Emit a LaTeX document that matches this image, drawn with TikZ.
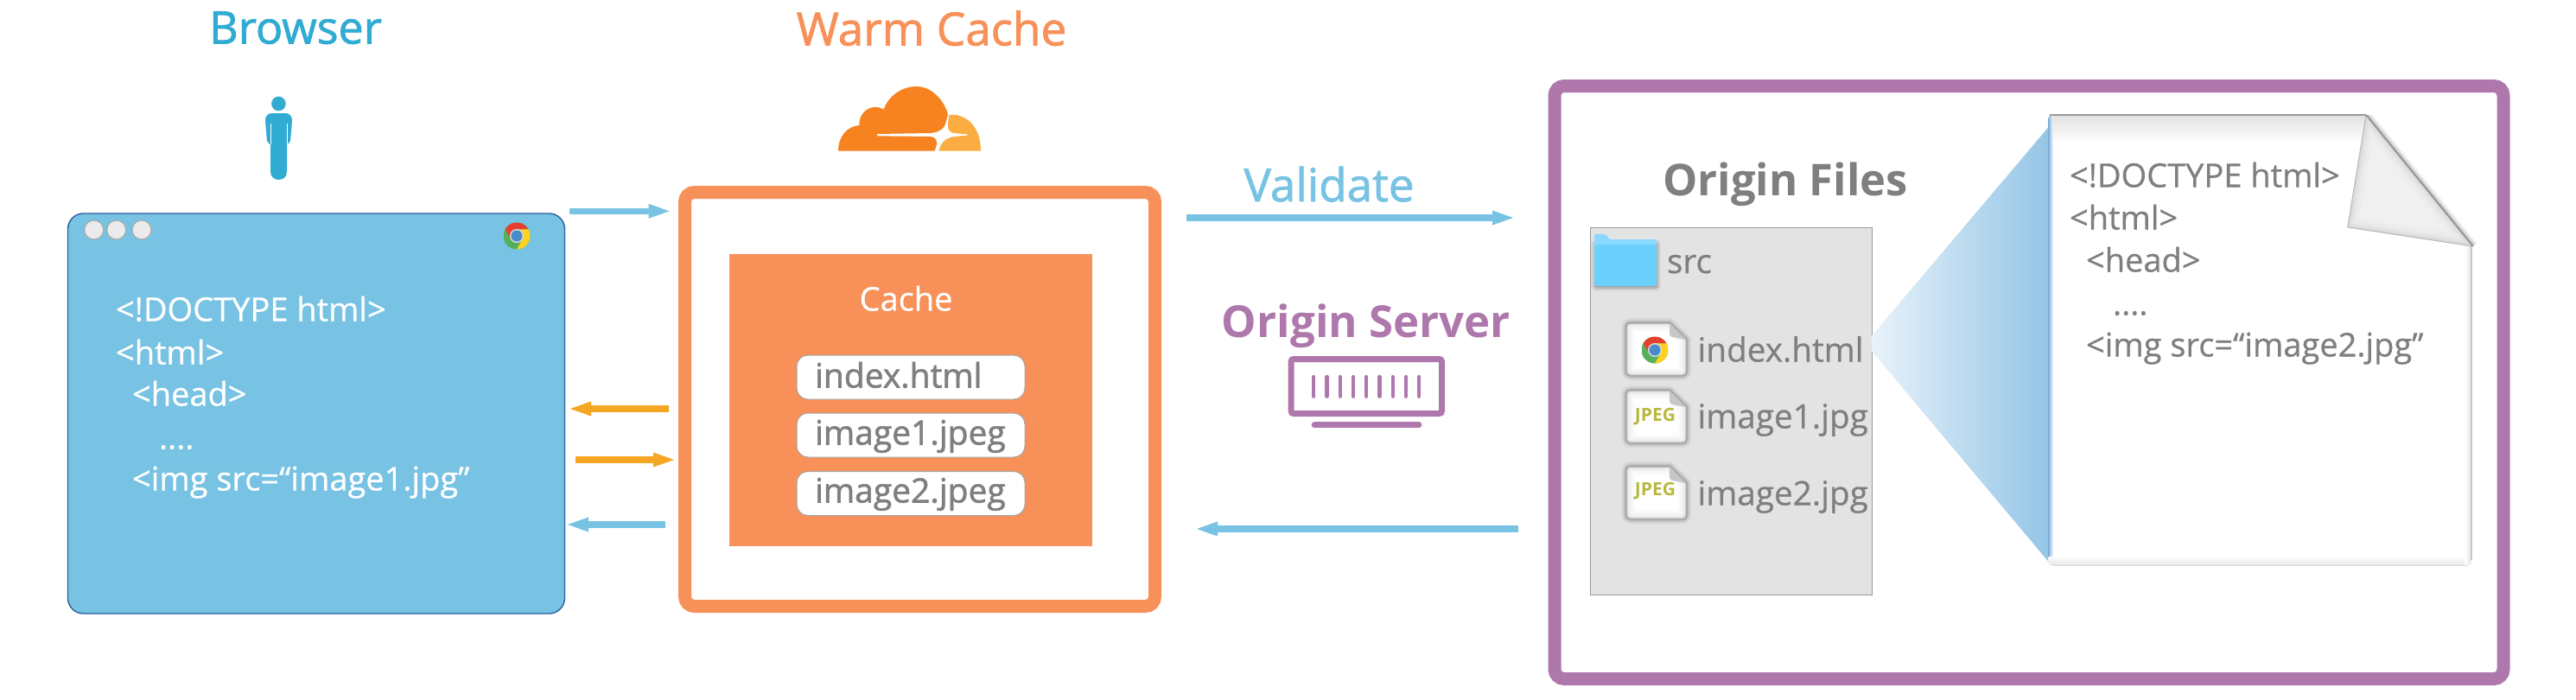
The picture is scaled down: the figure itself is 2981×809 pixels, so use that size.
\documentclass[tikz,border=0pt]{standalone}
\usepackage{fontspec}
\setmainfont{Open Sans}
\newfontfamily\semib[FakeBold=1.5]{Open Sans}
\newfontfamily\medm[FakeBold=0.6]{Open Sans}
\usetikzlibrary{arrows.meta,shapes.geometric}
\definecolor{bblue}{HTML}{78C3E3}
\definecolor{pblue}{HTML}{30ABD2}
\definecolor{worange}{HTML}{F79159}
\definecolor{aorange}{HTML}{F5A623}
\definecolor{ppurple}{HTML}{AF78AC}
\definecolor{tgray}{HTML}{7F7F7F}
\definecolor{cfA}{HTML}{F78320}
\definecolor{cfB}{HTML}{FBAD41}
\tikzset{
  x=1pt,y=-1pt,
  every node/.style={inner sep=0pt,outer sep=0pt},
  blueshaft/.style={draw=bblue,line width=7.3pt,-{Triangle[length=27pt,width=14.5pt]}},
  orangeshaft/.style={draw=aorange,line width=7.3pt,-{Triangle[length=27pt,width=14.5pt]}},
  heading/.style={anchor=base,font=\semib\fontsize{52}{52}\selectfont},
  code/.style={anchor=base west,font=\medm\fontsize{38}{38}\selectfont},
  fname/.style={anchor=base west,text=tgray,font=\medm\fontsize{38.7}{38.7}\selectfont},
  pillname/.style={anchor=base west,text=tgray,font=\semib\fontsize{39}{39}\selectfont},
  jpegmark/.style={anchor=center,text={rgb,255:red,184;green,184;blue,63},font=\bfseries\fontsize{21}{21}\selectfont},
  pill/.style={draw=black!35,fill=white,line width=1pt,rounded corners=13pt,minimum width=264pt,minimum height=51pt},
  dot/.style={draw=black!35,fill=black!8,line width=1pt,circle,minimum size=22pt},
  frame/.style={line width=15pt,rounded corners=11pt,fill=white},
}
\newcommand{\chromeicon}[3]{%
  \begin{scope}[shift={(#1,#2)},yscale=-1,scale=#3]
    \begin{scope}
      \clip (0,0) circle (1);
      \fill[fill={rgb,255:red,86;green,176;blue,90}] (-1,-1) rectangle (1,1);
      \fill[fill={rgb,255:red,229;green,64;blue,47}] (0,.5)--(3,.5)--(3,3)--(-1.933,3)--(-1.933,2.348)--(-.433,-.25)--cycle;
      \fill[fill={rgb,255:red,255;green,210;blue,30}] (0,.5)--(3,.5)--(3,-3)--(-1.067,-3)--(-1.067,-2.848)--(.433,-.25)--cycle;
    \end{scope}
    \fill[white!85!black] (0,0) circle (.52);
    \fill[fill={rgb,255:red,74;green,140;blue,203}] (0,0) circle (.42);
  \end{scope}}
\newcommand{\softstroke}[1]{%
  \foreach \w/\o in {12/.05,8/.07,5/.09,2.5/.12}{\draw[black,line width=\w pt,opacity=\o,line join=round] #1;}}
\newcommand{\fileshape}{(1882.7,378) .. controls (1882.7,375.5) and (1884,374.3) .. (1887,374.3) -- (1932,374.3) -- (1951,393) -- (1951,429) .. controls (1951,432.5) and (1949.5,434) .. (1946,434) -- (1887,434) .. controls (1884,434) and (1882.7,432.5) .. (1882.7,429) -- cycle}
\newcommand{\fileicon}[1]{%
  \begin{scope}[shift={(0,#1)}]
    \begin{scope}
      \clip (1870,365) rectangle (1965,440);
      \softstroke{\fileshape}
    \end{scope}
    \fill[white] \fileshape;
    \begin{scope}
      \clip \fileshape;
      \foreach \w/\o in {18/.02,12/.025,7/.03,3/.04}{\draw[black,line width=\w pt,opacity=\o] \fileshape;}
    \end{scope}
    \draw[black!28,line width=.8pt] \fileshape;
    \fill[black!22] (1932,374.3) -- (1951,393) -- (1935,390) .. controls (1933,389.5) and (1932,388) .. (1932,386) -- cycle;
  \end{scope}}
\begin{document}
\begin{tikzpicture}
\useasboundingbox (0,0) rectangle (2981,809);
% ---- Browser
\node[heading,text=pblue] (browserT) at (342,50.5) {Browser};
\fill[pblue] (322.4,120) circle (8.3);
\fill[pblue] (307,140) .. controls (307,133) and (311,131) .. (315,131) -- (330,131) .. controls (334,131) and (338,133) .. (338,140) -- (336,163) -- (333,167) -- (332,167) -- (332,199) .. controls (332,211) and (313,211) .. (313,199) -- (313,167) -- (312,167) -- (309,163) -- cycle;
\draw[white,line width=.7pt] (313,143)--(313,167) (332.5,143)--(332.5,167);
\node[draw={rgb,255:red,43;green,95;blue,158},fill=bblue,line width=1.4pt,rounded corners=18pt,minimum width=575pt,minimum height=463pt] (browser) at (366,478.5) {};
\node[dot] (d1) at (108.7,266) {};
\node[dot] (d2) at (134.7,266) {};
\node[dot] (d3) at (164,266) {};
\chromeicon{598}{273}{15.5}
\node[code,text=white] (b1) at (134,371.5) {<!DOCTYPE html>};
\node[code,text=white] (b2) at (134,421.5) {<html>};
\node[code,text=white] (b3) at (153,469.5) {<head>};
\node[code,text=white] (b4) at (184,519.5) {....};
\node[code,text=white] (b5) at (153,567.5) {<img src=“image1.jpg”};
% ---- Warm cache
\node[heading,text=worange,font=\semib\fontsize{53}{53}\selectfont] (warmT) at (1078,52.5) {Warm Cache};
\begin{scope}[shift={(960,90)},scale=.33333]
  \fill[cfA] (30,254) .. controls (30,205) and (60,168) .. (103,165) .. controls (100,120) and (145,85) .. (188,110) .. controls (205,60) and (255,30) .. (300,30) .. controls (360,30) and (400,85) .. (411,127) -- (405,150) .. controls (400,180) and (375,190) .. (350,192) -- (165,195) -- (165,202) -- (350,204) .. controls (370,206) and (374,220) .. (372,232) -- (365,254) -- cycle;
  \fill[cfB] (425,128) .. controls (490,130) and (525,185) .. (525,254) -- (380,254) .. controls (385,225) and (405,207) .. (435,204) -- (478,200) -- (478,196) -- (430,192) .. controls (410,188) and (408,170) .. (412,150) -- (415,130) -- cycle;
\end{scope}
\node[frame,draw=worange,minimum width=544pt,minimum height=479pt] (warm) at (1064.5,462) {};
\node[fill=worange,minimum width=420pt,minimum height=338pt] (cache) at (1054,463) {};
\node[anchor=base,text=white,font=\medm\fontsize{38}{38}\selectfont] (cacheT) at (1048.5,359.5) {Cache};
\node[pill] (p1) at (1054,436.5) {};
\node[pill] (p2) at (1054,503.5) {};
\node[pill] (p3) at (1054,571) {};
\node[pillname] at (943,448.5) (p1t) {index.html};
\node[pillname] at (943,514.5) (p2t) {image1.jpeg};
\node[pillname] at (943,581.5) (p3t) {image2.jpeg};
% ---- Arrows
\coordinate (a1s) at (659,244.3); \coordinate (a1e) at (777.5,244.3);
\coordinate (a2s) at (774,473);   \coordinate (a2e) at (657,473);
\coordinate (a3s) at (666,532);   \coordinate (a3e) at (783,532);
\coordinate (a4s) at (770,607);   \coordinate (a4e) at (654,607);
\coordinate (a5s) at (1373,252);  \coordinate (a5e) at (1754,252);
\coordinate (a6s) at (1757,612);  \coordinate (a6e) at (1382,612);
\draw[blueshaft] (a1s) -- (a1e);
\draw[orangeshaft] (a2s) -- (a2e);
\draw[orangeshaft] (a3s) -- (a3e);
\draw[blueshaft] (a4s) -- (a4e);
\draw[blueshaft] (a5s) -- (a5e);
\draw[blueshaft] (a6s) -- (a6e);
\node[heading,text=bblue,font=\semib\fontsize{53}{53}\selectfont] (validate) at (1538,233) {Validate};
% ---- Origin server
\node[heading,text=ppurple,font=\bfseries\fontsize{51}{51}\selectfont] (osT) at (1581,390) {Origin Server};
\draw[ppurple,line width=7pt,rounded corners=3pt] (1494,415.5) rectangle (1668.5,478.5);
\foreach \i in {0,...,8}{\draw[ppurple,line width=4.3pt,line cap=round] (1520.3+15.25*\i,436) -- (1520.3+15.25*\i,458.7);}
\draw[ppurple,line width=6.7pt,line cap=round] (1521,491.7) -- (1642,491.7);
% ---- Origin files
\node[frame,draw=ppurple,minimum width=1098pt,minimum height=686pt] (origin) at (2348,442.5) {};
\node[heading,text=tgray,font=\bfseries\fontsize{50.7}{50.7}\selectfont] (ofT) at (2066,226) {Origin Files};
\node[draw=black!40,fill=black!11,line width=1pt,minimum width=326pt,minimum height=425pt] (panel) at (2003.5,475.5) {};
% folder
\begin{scope}
  \clip (1835,262) rectangle (1925,345);
  \softstroke{(1847,283) rectangle (1916,331)}
\end{scope}
\fill[fill={rgb,255:red,139;green,217;blue,255},rounded corners=2pt] (1845,300) -- (1845,271) -- (1859,271) -- (1862,277) -- (1917,277) -- (1917,300) -- cycle;
\fill[fill={rgb,255:red,108;green,208;blue,252},rounded corners=3pt] (1845,283) rectangle (1917,331);
\node[fname] (srcT) at (1929,316) {src};
\fileicon{0}
\fileicon{78}
\fileicon{166}
\chromeicon{1915}{405}{15.5}
\node[jpegmark] (j1) at (1915.5,482) {JPEG};
\node[jpegmark] (j2) at (1915.5,568) {JPEG};
\node[fname] (f1) at (1964.5,418.5) {index.html};
\node[fname] (f2) at (1964.5,495.5) {image1.jpg};
\node[fname] (f3) at (1964.5,584.5) {image2.jpg};
% wedge
\shade[left color={rgb,255:red,232;green,242;blue,250},right color={rgb,255:red,149;green,197;blue,230}] (2166.5,388) -- (2370.6,147) -- (2370.6,650) -- (2166.5,407) -- cycle;
% page
\newcommand{\pageshape}{(2370.6,137) .. controls (2370.6,134) and (2372,132) .. (2375,132) -- (2738,132) -- (2860,285) -- (2860,648) .. controls (2860,652) and (2858,654.5) .. (2855,654.5) -- (2376,654.5) .. controls (2372.5,654.5) and (2370.6,652) .. (2370.6,648) -- cycle}
\fill[white] \pageshape;
\begin{scope}
  \clip \pageshape;
  \shade[top color=black!12,bottom color=white] (2370,132) rectangle (2745,165);
  \shade[left color={rgb,255:red,120;green,170;blue,215},right color=white] (2370,132) rectangle (2376,656);
  \shade[top color=white,bottom color=black!12] (2370,644) rectangle (2862,656);
  \shade[left color=white,right color=black!12] (2852,280) rectangle (2861,656);
\end{scope}
\draw[black!40,line width=2pt] (2372,133) -- (2738,133);
\draw[black!22,line width=1.2pt] (2860,285) -- (2860,648);
\draw[black!14,line width=1.2pt] (2376,654.5) -- (2855,654.5);
% flap
\begin{scope}
  \clip (2738,133) -- (2900,133) -- (2900,300) -- (2861.7,285) -- cycle;
  \softstroke{(2738,133) -- (2861.7,285)}
\end{scope}
\newcommand{\flapshape}{(2738,133) -- (2861.7,285) -- (2716.7,263) -- cycle}
\fill[black!6] \flapshape;
\begin{scope}
  \clip \flapshape;
  \foreach \w/\o in {24/.012,16/.018,10/.022,5/.03}{\draw[black,line width=\w pt,opacity=\o] \flapshape;}
\end{scope}
\draw[black!28,line width=1pt] (2716.7,263) -- (2861.7,285) (2738,133) -- (2716.7,263);
\draw[black!45,line width=1.4pt] (2738,133) -- (2861.7,285);
\node[code,text=tgray] (c1) at (2395,216.5) {<!DOCTYPE html>};
\node[code,text=tgray] (c2) at (2395,265.5) {<html>};
\node[code,text=tgray] (c3) at (2414,314.5) {<head>};
\node[code,text=tgray] (c4) at (2445,364.5) {....};
\node[code,text=tgray] (c5) at (2414,412.5) {<img src=“image2.jpg”};
\end{tikzpicture}
\end{document}
